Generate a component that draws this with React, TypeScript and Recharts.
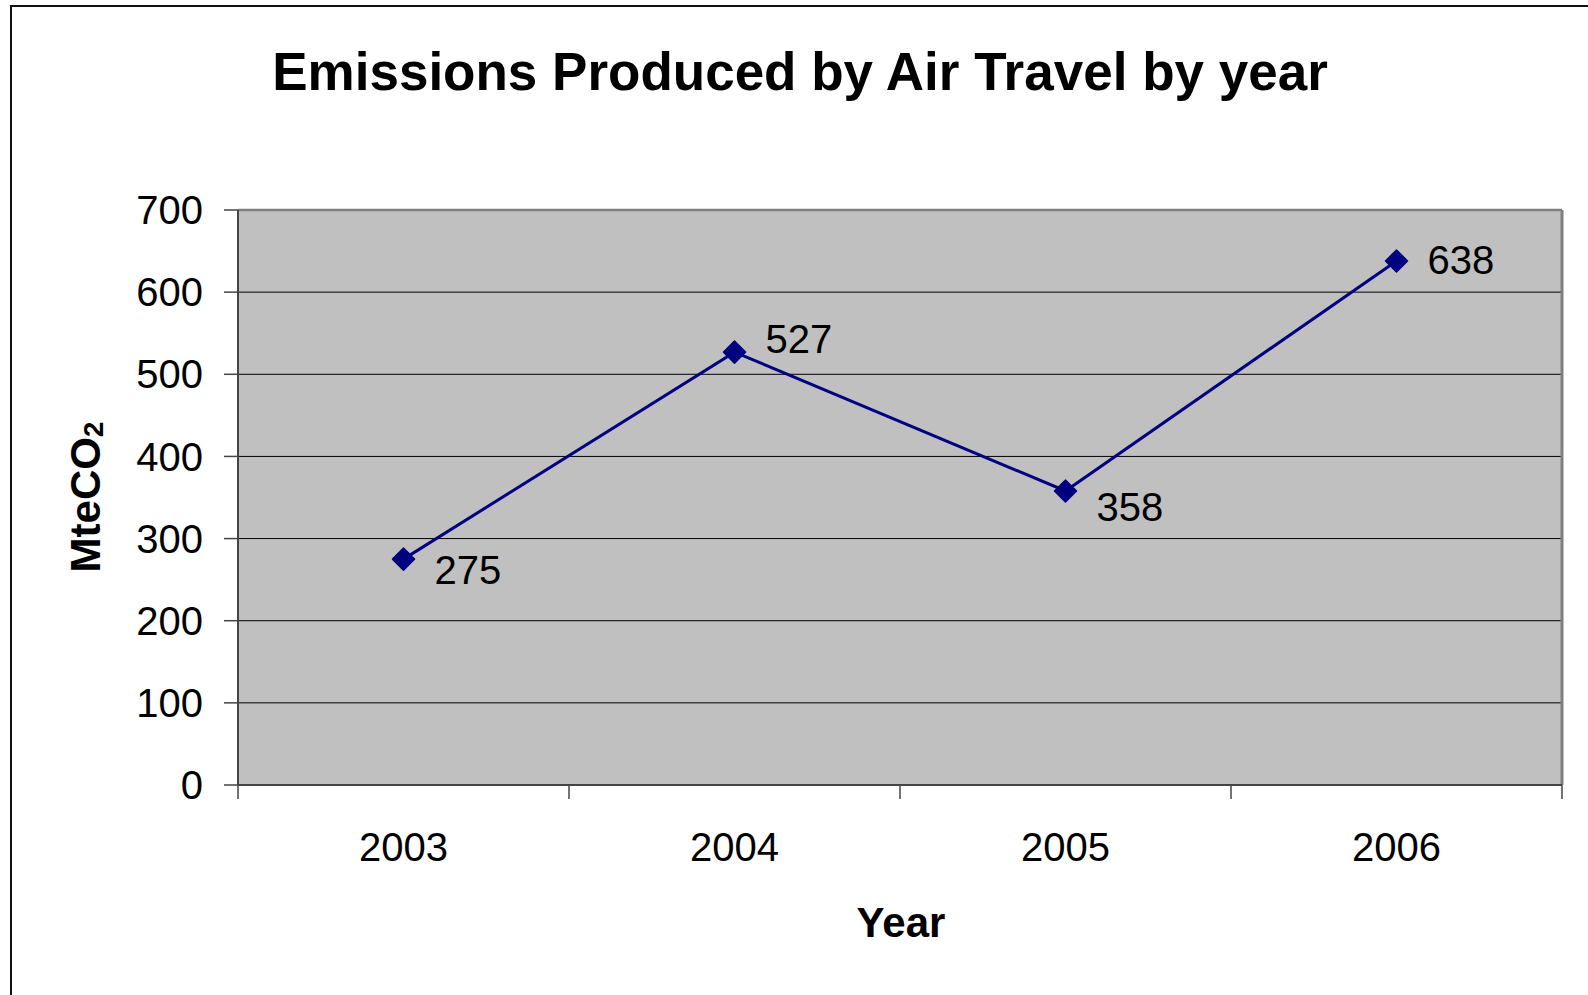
import React from "react";
import { LineChart, Line, XAxis, YAxis, CartesianGrid, ReferenceLine, LabelList } from "recharts";

const years = ["2003", "2004", "2005", "2006"];
const emissions = [275, 527, 358, 638];
const yTicks = [0, 100, 200, 300, 400, 500, 600, 700];

const chartTitle = "Emissions Produced by Air Travel by year";
const xTitle = "Year";

const FONT = '"Liberation Sans", Arial, sans-serif';

const data = years.map((y, i) => ({ x: i + 0.5, year: y, value: emissions[i] }));
const xTicks = [0, 0.5, 1, 1.5, 2, 2.5, 3, 3.5, 4];

// per-point label vertical nudges (baseline offset from point)
const labelDy = [25, 1, 30, 13];

const XTick = (props: any) => {
  const { x, y, payload } = props;
  const v = payload.value as number;
  if (Number.isInteger(v)) {
    return <line x1={x} y1={y} x2={x} y2={y + 14} stroke="#444" strokeWidth={1.5} />;
  }
  const idx = Math.floor(v);
  return (
    <text x={x} y={y + 48} dy="0.71em" textAnchor="middle" fontSize={40} fontFamily={FONT} fill="#000">
      {years[idx]}
    </text>
  );
};

const Diamond = (props: any) => {
  const { cx, cy } = props;
  if (cx == null || cy == null) return null;
  const r = 11;
  return (
    <polygon
      points={`${cx},${cy - r} ${cx + r},${cy} ${cx},${cy + r} ${cx - r},${cy}`}
      fill="#000080"
      stroke="#000080"
      strokeWidth={1.5}
      strokeLinejoin="round"
    />
  );
};

const ValueLabel = (props: any) => {
  const { x, y, value, index } = props;
  return (
    <text x={x + 31} y={y + labelDy[index]} fontSize={40} fontFamily={FONT} fill="#000">
      {value}
    </text>
  );
};

export default function App() {
  return (
    <div style={{ position: "absolute", left: 0, top: 0, width: 1588, height: 995, background: "#fff", fontFamily: FONT }}>
      <div
        style={{
          position: "absolute",
          left: 10,
          top: 5,
          width: 1600,
          height: 1000,
          borderLeft: "2px solid #111",
          borderTop: "2px solid #111",
        }}
      />
      <div style={{ position: "absolute", left: 0, top: 0 }}>
        <LineChart
          width={1588}
          height={995}
          data={data}
          margin={{ top: 210, right: 26, bottom: 150, left: 0 }}
        >
          <CartesianGrid
            vertical={false}
            fill="#C0C0C0"
            stroke="#000"
            strokeWidth={1}
            horizontalValues={yTicks}
          />
          <ReferenceLine y={700} stroke="#808080" strokeWidth={2.5} ifOverflow="visible" />
          <ReferenceLine x={4} stroke="#808080" strokeWidth={3} ifOverflow="visible" />
          <XAxis
            dataKey="x"
            type="number"
            domain={[0, 4]}
            ticks={xTicks}
            interval={0}
            tick={<XTick />}
            tickLine={false}
            tickSize={0}
            tickMargin={0}
            height={60}
            axisLine={{ stroke: "#444", strokeWidth: 2 }}
          />
          <YAxis
            type="number"
            domain={[0, 700]}
            ticks={yTicks}
            interval={0}
            width={238}
            tickSize={14}
            tickMargin={21}
            tickLine={{ stroke: "#444", strokeWidth: 1.5 }}
            axisLine={{ stroke: "#444", strokeWidth: 2 }}
            tick={{ fontSize: 40, fontFamily: FONT, fill: "#000" }}
          />
          <Line
            dataKey="value"
            stroke="#000080"
            strokeWidth={3}
            dot={<Diamond />}
            activeDot={false}
            isAnimationActive={false}
          >
            <LabelList dataKey="value" content={<ValueLabel />} />
          </Line>
        </LineChart>
      </div>
      <svg
        width={1588}
        height={995}
        style={{ position: "absolute", left: 0, top: 0, pointerEvents: "none" }}
      >
        <text x={800} y={90} textAnchor="middle" fontSize={53} fontWeight="bold" fontFamily={FONT} fill="#000">
          {chartTitle}
        </text>
        <text x={901} y={937} textAnchor="middle" fontSize={42} fontWeight="bold" fontFamily={FONT} fill="#000">
          {xTitle}
        </text>
        <text
          transform="translate(100,497) rotate(-90)"
          textAnchor="middle"
          fontSize={42}
          fontWeight="bold"
          fontFamily={FONT}
          fill="#000"
        >
          MteCO
          <tspan fontSize={28} dy={3}>2</tspan>
        </text>
      </svg>
    </div>
  );
}
